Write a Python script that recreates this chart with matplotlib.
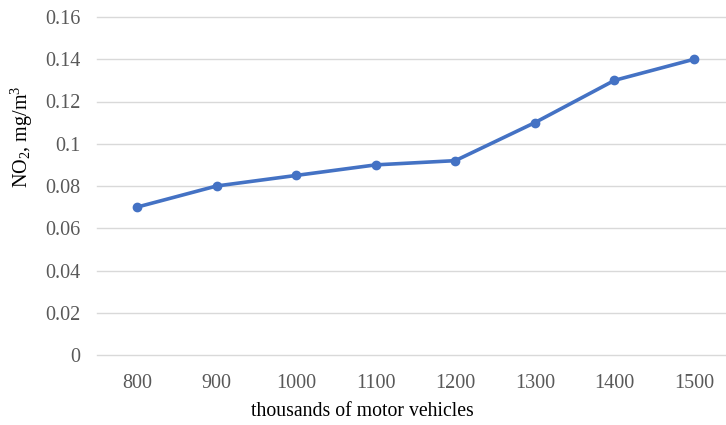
import matplotlib
matplotlib.use("Agg")
import matplotlib.pyplot as plt

vehicles = ["800", "900", "1000", "1100", "1200", "1300", "1400", "1500"]
no2 = [0.07, 0.08, 0.085, 0.09, 0.092, 0.11, 0.13, 0.14]
y_ticks = [0, 0.02, 0.04, 0.06, 0.08, 0.1, 0.12, 0.14, 0.16]
y_tick_labels = ["0", "0.02", "0.04", "0.06", "0.08", "0.1", "0.12", "0.14", "0.16"]

plt.rcParams["font.family"] = ["Liberation Serif", "DejaVu Serif"]
plt.rcParams["mathtext.fontset"] = "custom"
plt.rcParams["mathtext.rm"] = "Liberation Serif"
plt.rcParams["mathtext.it"] = "Liberation Serif:italic"

W, H = 726, 425
fig = plt.figure(figsize=(W / 100, H / 100), dpi=100)
left, right = 97.2, 733.8
bottom, top = H - 355, H - 17
ax = fig.add_axes([left / W, bottom / H, (right - left) / W, (top - bottom) / H])

x = list(range(len(vehicles)))
ax.plot(x, no2, color="#4472C4", lw=2.6, marker="o", ms=6, zorder=3)

ax.set_xlim(-0.5, len(vehicles) - 0.5)
ax.set_ylim(0, 0.16)
ax.set_yticks(y_ticks)
ax.set_yticklabels(y_tick_labels)
ax.set_xticks(x)
ax.set_xticklabels(vehicles)
ax.grid(axis="y", color="#d9d9d9", lw=1)
for gl in ax.get_ygridlines():
    gl.set_clip_on(False)
ax.set_axisbelow(True)
for s in ax.spines.values():
    s.set_visible(False)
ax.tick_params(length=0, labelsize=14.5, colors="#595959")
ax.tick_params(axis="x", pad=14)
ax.tick_params(axis="y", pad=12)

fig.text(362 / W, 1 - 411 / H, "thousands of motor vehicles", fontsize=14.2,
         color="black", ha="center", va="center")
fig.text(22 / W, 1 - 137 / H, r"NO$_2$, mg/m$^3$", fontsize=14.5, color="black",
         rotation=90, ha="center", va="center")

fig.savefig("out.png", dpi=100)
